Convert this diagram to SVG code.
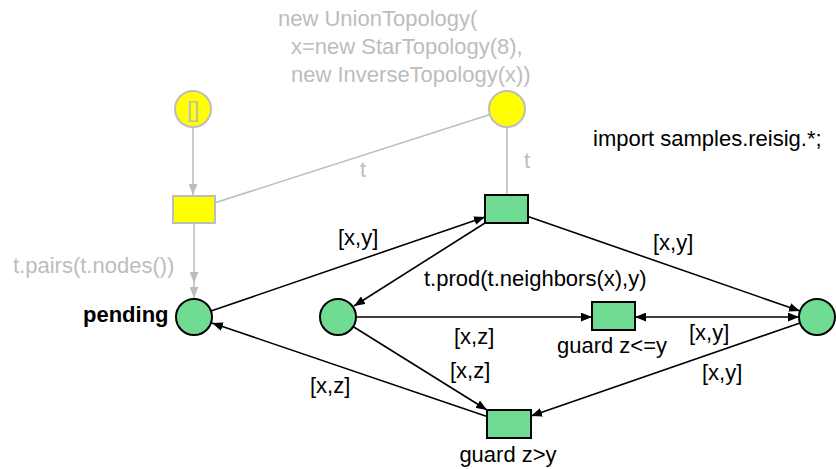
<svg xmlns="http://www.w3.org/2000/svg" width="836" height="469" viewBox="0 0 836 469">
<style>
text{font-family:"Liberation Sans",Arial,sans-serif;font-size:22px;fill:#000}
.g{fill:#bdbdbd}
.b{font-weight:bold}
.m{text-anchor:middle}
.place{fill:#70db93;stroke:#000;stroke-width:2}
.trans{fill:#70db93;stroke:#000;stroke-width:2}
.yp{fill:#ffff00;stroke:#bdbdbd;stroke-width:2}
.arc{fill:none;stroke:#000;stroke-width:1.6}
.garc{fill:none;stroke:#bdbdbd;stroke-width:1.6}
</style>
<defs>
<marker id="ah" viewBox="0 0 10 8" refX="10" refY="4" markerWidth="11" markerHeight="9" markerUnits="userSpaceOnUse" orient="auto-start-reverse"><path d="M0,0L10,4L0,8z" fill="#000"/></marker>
<marker id="gah" viewBox="0 0 10 8" refX="10" refY="4" markerWidth="11" markerHeight="9" markerUnits="userSpaceOnUse" orient="auto"><path d="M0,0L10,4L0,8z" fill="#bdbdbd"/></marker>
</defs>
<g id="declaration"><text x="593" y="146">import samples.reisig.*;</text></g>
<g id="connectors">
<path class="garc" d="M193,127L193,195" marker-end="url(#gah)"/>
<path class="garc" d="M490,114.5L215,202.8"/>
<path class="garc" d="M507,127L507,195"/>
<path class="garc" d="M194,223L194,283L194,298" marker-mid="url(#gah)" marker-end="url(#gah)"/>
<path class="arc" d="M211,311L485,217" marker-end="url(#ah)"/>
<path class="arc" d="M485,223L354,306" marker-end="url(#ah)"/>
<path class="arc" d="M528,216.5L800,311" marker-end="url(#ah)"/>
<path class="arc" d="M356,317L592,317" marker-end="url(#ah)"/>
<path class="arc" d="M635,317L799,317" marker-start="url(#ah)" marker-end="url(#ah)"/>
<path class="arc" d="M800,323L531,416" marker-end="url(#ah)"/>
<path class="arc" d="M353,326.5L487,410" marker-end="url(#ah)"/>
<path class="arc" d="M487,416.5L212,323" marker-end="url(#ah)"/>
<text class="g" x="360" y="177">t</text>
<text class="g" x="524" y="168">t</text>
<text class="g" x="13" y="273">t.pairs(t.nodes())</text>
<text x="338" y="245">[x,y]</text>
<text x="424" y="286">t.prod(t.neighbors(x),y)</text>
<text x="653" y="250">[x,y]</text>
<text x="454" y="344">[x,z]</text>
<text x="689" y="340">[x,y]</text>
<text x="450" y="378">[x,z]</text>
<text x="702" y="380">[x,y]</text>
<text x="310" y="393">[x,z]</text>
</g>
<g id="p_empty"><circle class="yp" cx="193" cy="109" r="18"/><text class="g m" x="193" y="117">[]</text></g>
<g id="p_topology"><circle class="yp" cx="507" cy="109" r="18"/>
<text class="g" x="278" y="26">new UnionTopology(</text>
<text class="g" x="291" y="54">x=new StarTopology(8),</text>
<text class="g" x="291" y="82">new InverseTopology(x))</text></g>
<g id="t_init"><rect class="yp" x="173" y="196" width="42" height="27"/></g>
<g id="t_send"><rect class="trans" x="485" y="195" width="43" height="28"/></g>
<g id="p_pending"><circle class="place" cx="194" cy="317" r="18"/><text class="b" x="83" y="322">pending</text></g>
<g id="p_messages"><circle class="place" cx="338" cy="317" r="18"/></g>
<g id="p_max"><circle class="place" cx="817" cy="317" r="18"/></g>
<g id="t_drop"><rect class="trans" x="592" y="302" width="43" height="28"/><text class="m" x="612" y="353">guard z&lt;=y</text></g>
<g id="t_update"><rect class="trans" x="487" y="410" width="44" height="28"/><text class="m" x="508" y="462">guard z&gt;y</text></g>
</svg>
